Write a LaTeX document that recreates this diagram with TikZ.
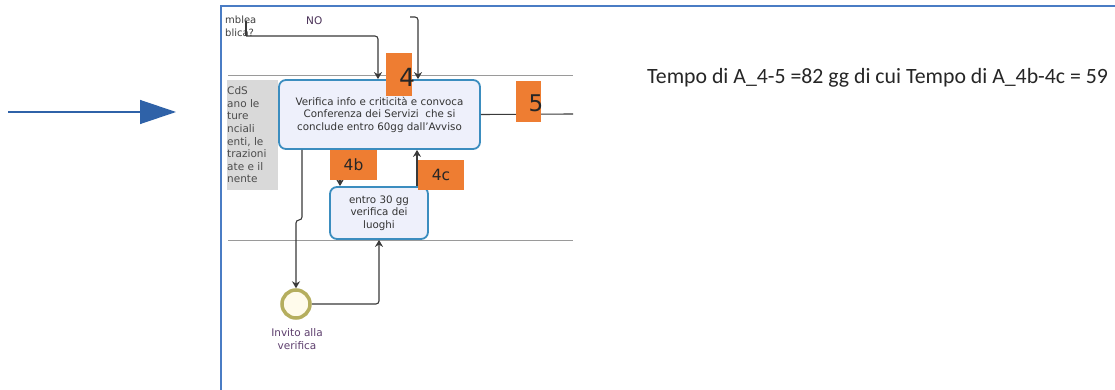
\documentclass[tikz,border=0pt]{standalone}
\usepackage{fontspec}
\setmainfont{DejaVu Sans}
\newfontfamily\calib{Carlito}
\usetikzlibrary{arrows.meta}
\definecolor{frameblue}{HTML}{4A7CC4}
\definecolor{arrblue}{HTML}{2F62A8}
\definecolor{boxborder}{HTML}{3B8DBF}
\definecolor{boxfill}{HTML}{EEF0FB}
\definecolor{orng}{HTML}{EE7D32}
\definecolor{lanegray}{HTML}{9A9A9A}
\definecolor{grayboxc}{HTML}{D9D9D9}
\definecolor{olivec}{HTML}{B5AE5E}
\definecolor{cream}{HTML}{FFFBEB}
\definecolor{lblpurple}{HTML}{5E3F6E}
\definecolor{conn}{HTML}{3A3A3A}
\begin{document}
\begin{tikzpicture}[x=1pt,y=-1pt,
 task/.style={draw=boxborder, line width=1.8pt, fill=boxfill, rounded corners=7pt, align=center, font=\fontsize{10.3}{12.5}\selectfont, text=black!80, inner sep=0pt},
 tag/.style={fill=orng, inner sep=0pt},
 flow/.style={draw=conn, line width=1.1pt, -{Stealth[length=7pt,width=8pt]}, rounded corners=3pt},
 plain/.style={draw=conn, line width=1.1pt, rounded corners=3pt},
 lane/.style={draw=lanegray, line width=1pt},
 small/.style={font=\fontsize{10.5}{12.6}\selectfont, text=black!75, inner sep=0pt}]
\useasboundingbox (0,0) rectangle (1115,390);
\fill[white] (0,0) rectangle (1115,390);

% pointer arrow at left
\coordinate (pa) at (8,112);
\coordinate (pb) at (176,112);
\draw[arrblue, line width=1.3pt, -{Triangle[length=36pt,width=24pt]}] (pa) -- (pb);

% frame
\coordinate (f1) at (221,390);
\coordinate (f2) at (221,6);
\coordinate (f3) at (1115,6);
\draw[frameblue, line width=1.5pt] (f1) -- (f2) -- (f3);

% lanes
\coordinate (l1a) at (228,75.5);
\coordinate (l1b) at (573,75.5);
\coordinate (l2a) at (228,240.5);
\coordinate (l2b) at (573,240.5);
\draw[lane] (l1a) -- (l1b);
\draw[lane] (l2a) -- (l2b);

% gray lane label box
\begin{scope}
\clip (227,80) rectangle (278,190);
\fill[grayboxc] (227,80) rectangle (278,190);
\node[small, anchor=north west, align=left, text=black!70] (lanetxt) at (227,86.5)
 {CdS\\ano le\\ture\\nciali\\enti, le\\trazioni\\ate e il\\nente};
\end{scope}

% top-left texts
\node[small, anchor=west, align=left, font=\fontsize{10}{13}\selectfont] (asm) at (225,26) {mblea\\blica?};
\node[small, anchor=west, text=lblpurple!80!black, font=\fontsize{10.5}{13}\selectfont] (no) at (306,20.5) {NO};

% main task
\node[task, minimum width=201pt, minimum height=69pt] (main) at (379.5,114.5)
 {Verifica info e criticità e convoca\\Conferenza dei Servizi\ \ che si\\conclude entro 60gg dall'Avviso};

% small task
\node[task, minimum width=98pt, minimum height=52pt] (verif) at (379,213)
 {entro 30 gg\\verifica dei\\luoghi};

% start event
\node[circle, draw=olivec, line width=3.5pt, fill=cream, minimum size=28pt, inner sep=0pt] (ev) at (296,304) {};
\node[small, align=center, text=lblpurple, font=\fontsize{10.5}{13}\selectfont] (evlbl) at (297,339) {Invito alla\\verifica};

% incoming flows from top
\coordinate (t1) at (246,21);
\coordinate (t1b) at (246,36);
\draw[plain] (t1) -- (t1b);
\draw[flow] (t1b) -- (378,36) -- (main.north -| 378,0);
\coordinate (t2) at (410,17);
\draw[flow] (t2) -- (418,17) -- (main.north -| 418,0);

% flow to 5
\coordinate (out5) at (573,114);
\draw[plain] (main.east) -- (out5);

% 4b flow
\draw[flow] (main.south -| 340,0) -- (verif.north -| 340,0);
% 4c flow
\draw[flow] (verif.north -| 417,0) -- (main.south -| 417,0);

% flow down to event
\coordinate (j1) at (302,220);
\coordinate (j2) at (296,220);
\draw[flow] (main.south -| 302,0) -- (j1) -- (j2) -- (ev.north);
% event to small task
\draw[flow] (ev.east) -- (ev.east -| 379,0) -- (verif.south);

% orange tags
\node[tag, minimum width=26pt, minimum height=43pt] (tag4) at (399,74.5) {};
\node[font=\fontsize{25}{25}\selectfont, text=black!85, inner sep=0pt] (n4) at (407,77) {4};
\node[tag, minimum width=25pt, minimum height=41pt] (tag5) at (528.5,101.5) {};
\node[font=\fontsize{23}{23}\selectfont, text=black!85, inner sep=0pt] (n5) at (536,103) {5};
\node[tag, minimum width=47pt, minimum height=30pt, font=\fontsize{15.5}{15.5}\selectfont, text=black!85] (tag4b) at (353.5,165) {4b};
\node[tag, minimum width=46pt, minimum height=30pt, font=\fontsize{15.5}{15.5}\selectfont, text=black!85] (tag4c) at (441,175) {4c};

% right note
\node[anchor=west, inner sep=0pt, font=\calib\fontsize{21.8}{22}\selectfont, text=black!85] (note) at (647,78)
 {Tempo di A\_4-5 =82 gg di cui Tempo di A\_4b-4c = 59};
\end{tikzpicture}
\end{document}
